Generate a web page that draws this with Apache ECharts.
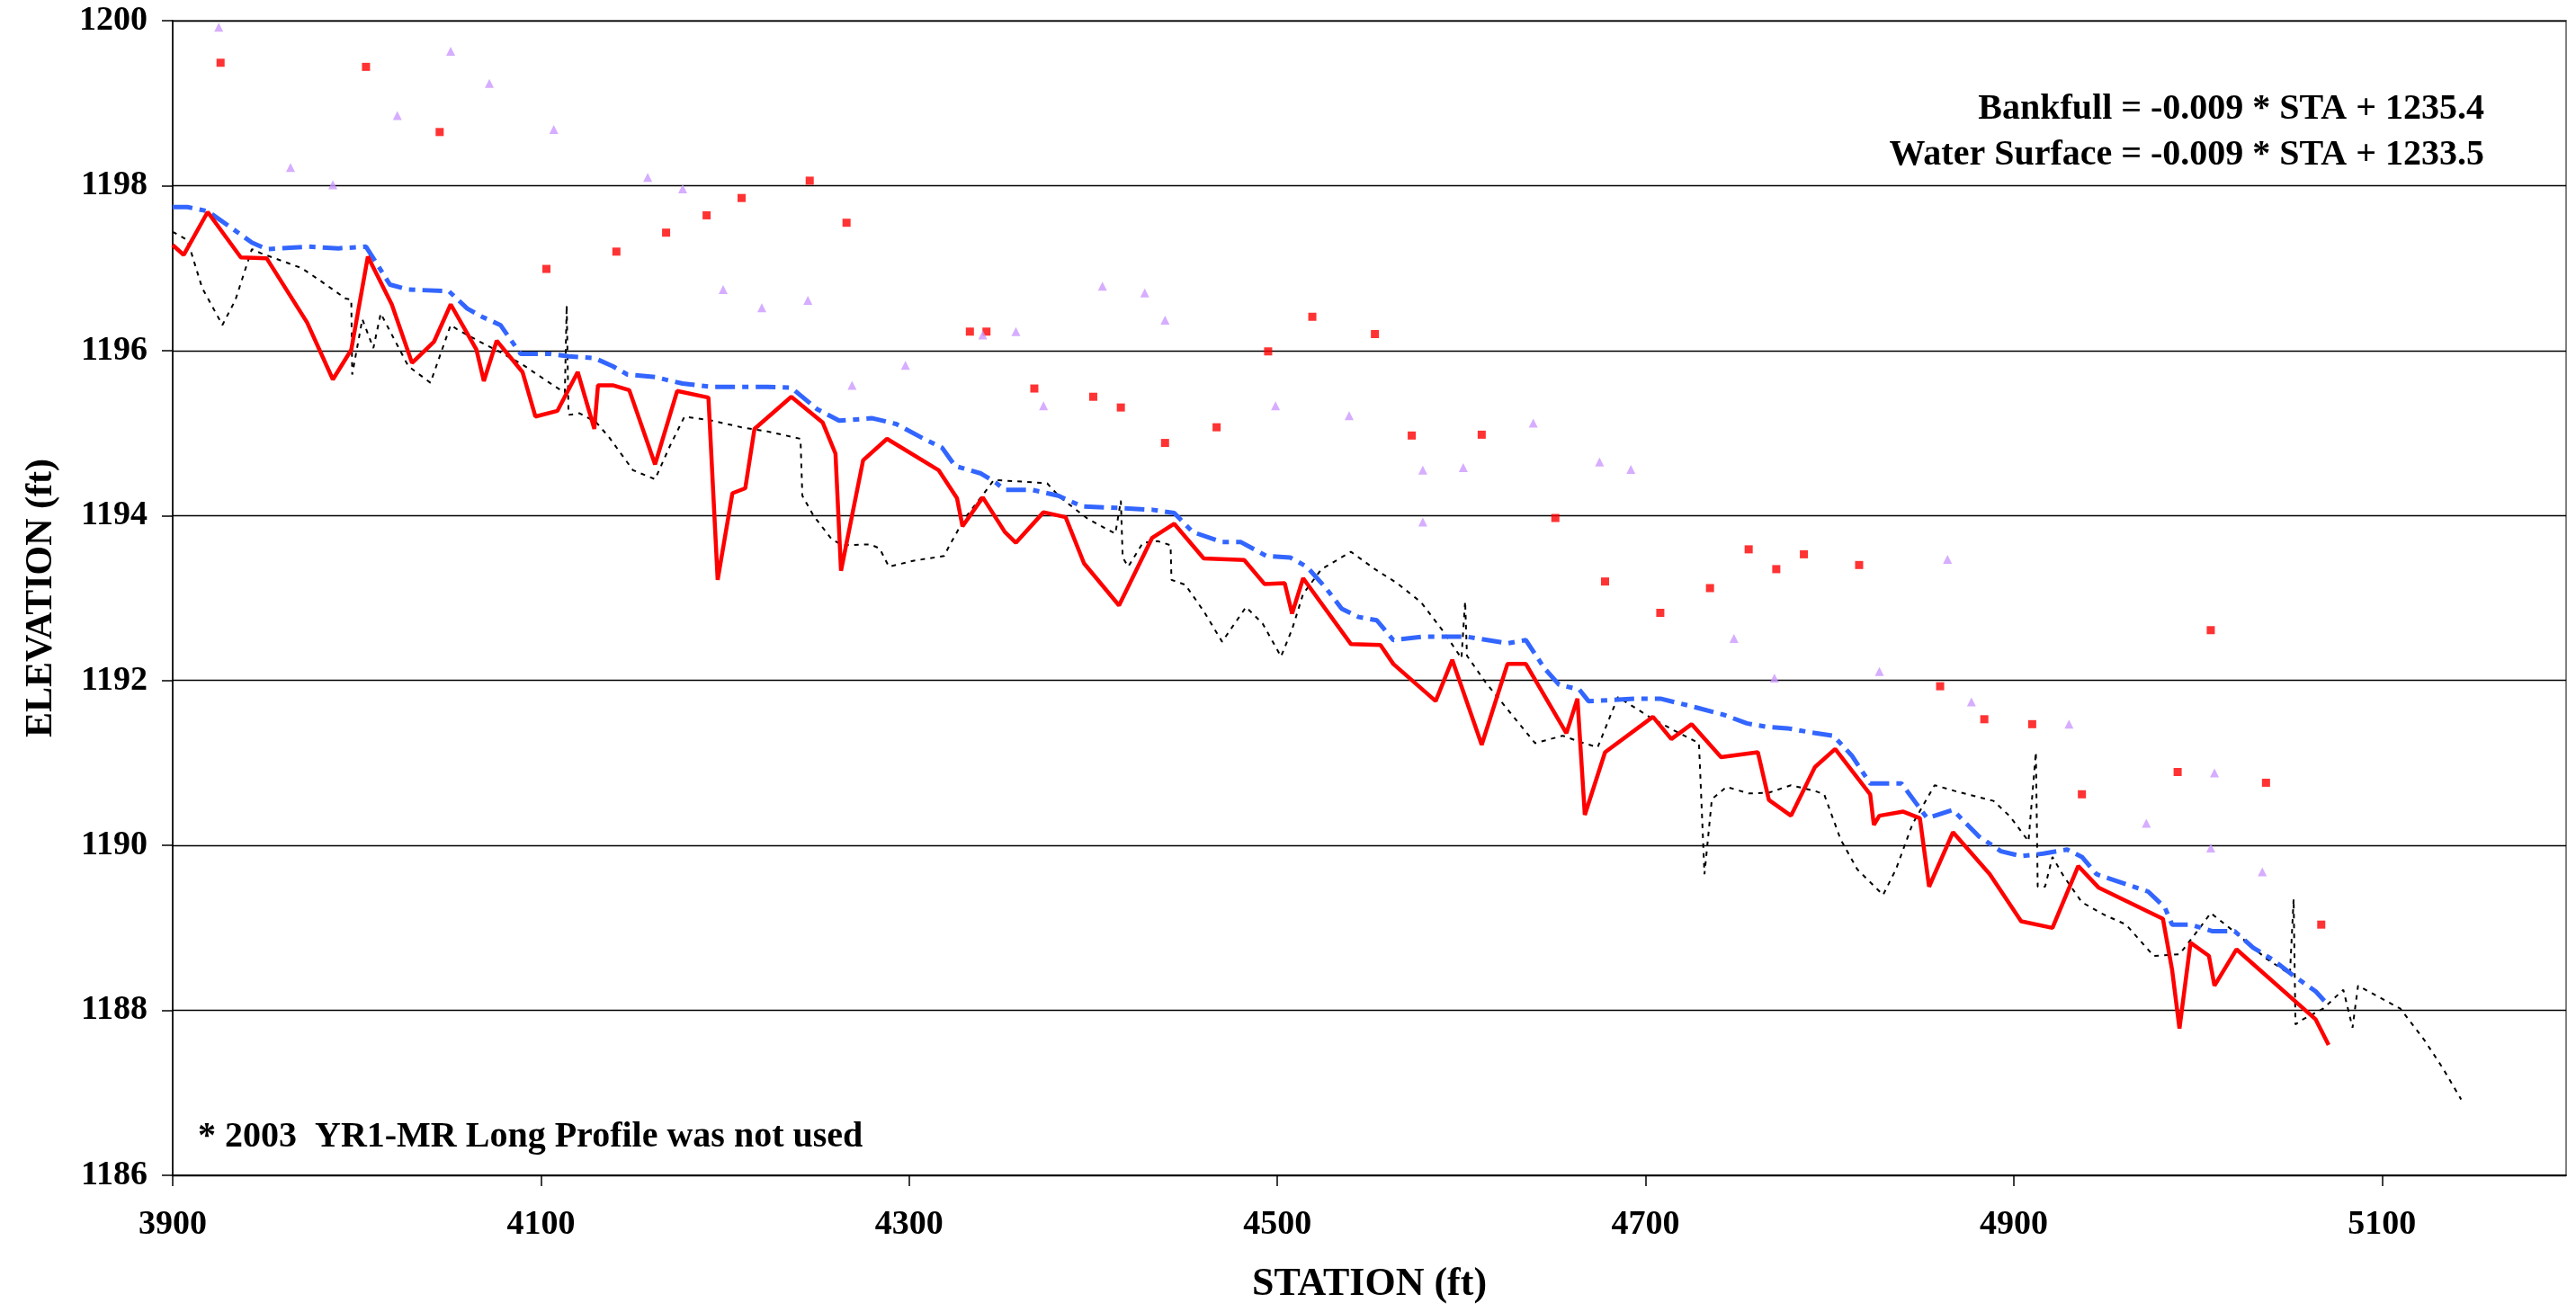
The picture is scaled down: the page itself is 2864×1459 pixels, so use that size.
<!DOCTYPE html>
<html>
<head>
<meta charset="utf-8">
<title>Long Profile</title>
<script src="https://cdn.jsdelivr.net/npm/echarts@6/dist/echarts.min.js"></script>
<style>
  html, body { margin: 0; padding: 0; background: #fff; }
  #chart-container { width: 2864px; height: 1459px; }
</style>
</head>
<body>
<div id="chart-container"></div>
<script>
const FONT = '"Liberation Serif", "Times New Roman", serif';

// red solid line
const thalwegSta = [3900, 3906, 3919, 3937, 3951, 3973, 3987, 3997, 4006, 4019, 4030, 4042, 4051, 4065, 4069, 4076, 4090, 4097, 4109, 4120, 4129, 4131, 4139, 4148, 4162, 4174, 4191, 4196, 4204, 4211, 4216, 4236, 4253, 4260, 4263, 4275, 4288, 4316, 4326, 4329, 4340, 4352, 4358, 4373, 4385, 4395, 4414, 4432, 4444, 4460, 4482, 4493, 4504, 4508, 4514, 4540, 4556, 4563, 4586, 4595, 4611, 4625, 4635, 4646, 4657, 4663, 4667, 4678, 4704, 4714, 4725, 4741, 4761, 4767, 4779, 4792, 4803, 4822, 4824, 4827, 4840, 4849, 4854, 4867, 4887, 4904, 4921, 4935, 4946, 4981, 4986, 4990, 4996, 5006, 5009, 5021, 5064, 5071];
const thalwegElev = [1197.28, 1197.16, 1197.68, 1197.13, 1197.12, 1196.34, 1195.65, 1196.01, 1197.14, 1196.56, 1195.85, 1196.11, 1196.56, 1196.01, 1195.63, 1196.12, 1195.74, 1195.20, 1195.27, 1195.74, 1195.05, 1195.58, 1195.58, 1195.52, 1194.62, 1195.51, 1195.43, 1193.22, 1194.27, 1194.33, 1195.05, 1195.44, 1195.13, 1194.75, 1193.33, 1194.67, 1194.93, 1194.55, 1194.21, 1193.87, 1194.22, 1193.80, 1193.67, 1194.04, 1193.98, 1193.42, 1192.91, 1193.73, 1193.90, 1193.48, 1193.46, 1193.17, 1193.18, 1192.81, 1193.24, 1192.44, 1192.43, 1192.20, 1191.75, 1192.25, 1191.22, 1192.20, 1192.20, 1191.78, 1191.36, 1191.78, 1190.37, 1191.13, 1191.56, 1191.29, 1191.47, 1191.07, 1191.13, 1190.55, 1190.36, 1190.95, 1191.17, 1190.62, 1190.25, 1190.36, 1190.41, 1190.33, 1189.50, 1190.16, 1189.65, 1189.08, 1189.00, 1189.75, 1189.49, 1189.11, 1188.49, 1187.78, 1188.82, 1188.66, 1188.30, 1188.74, 1187.89, 1187.58];

// blue dashed line
const waterSta = [3900, 3908, 3919, 3933, 3943, 3951, 3974, 3990, 4005, 4018, 4028, 4050, 4060, 4068, 4078, 4089, 4105, 4115, 4129, 4139, 4147, 4162, 4171, 4177, 4193, 4223, 4236, 4250, 4262, 4280, 4293, 4308, 4318, 4325, 4339, 4347, 4352, 4367, 4381, 4394, 4415, 4432, 4444, 4454, 4470, 4480, 4494, 4507, 4516, 4526, 4535, 4544, 4554, 4563, 4579, 4603, 4625, 4635, 4645, 4653, 4664, 4669, 4680, 4695, 4708, 4728, 4743, 4755, 4765, 4777, 4790, 4802, 4812, 4822, 4839, 4847, 4853, 4867, 4881, 4893, 4904, 4916, 4929, 4937, 4945, 4961, 4973, 4982, 4986, 4996, 5008, 5020, 5030, 5041, 5052, 5064, 5071];
const waterElev = [1197.74, 1197.74, 1197.69, 1197.47, 1197.31, 1197.23, 1197.26, 1197.24, 1197.26, 1196.80, 1196.74, 1196.72, 1196.51, 1196.41, 1196.31, 1195.96, 1195.96, 1195.93, 1195.91, 1195.81, 1195.71, 1195.68, 1195.63, 1195.60, 1195.56, 1195.56, 1195.55, 1195.29, 1195.15, 1195.18, 1195.11, 1194.93, 1194.82, 1194.60, 1194.51, 1194.40, 1194.31, 1194.31, 1194.24, 1194.11, 1194.09, 1194.07, 1194.03, 1193.80, 1193.68, 1193.68, 1193.51, 1193.49, 1193.38, 1193.13, 1192.87, 1192.77, 1192.73, 1192.49, 1192.53, 1192.53, 1192.45, 1192.49, 1192.15, 1191.95, 1191.89, 1191.75, 1191.76, 1191.78, 1191.78, 1191.67, 1191.58, 1191.48, 1191.44, 1191.42, 1191.37, 1191.33, 1191.09, 1190.75, 1190.75, 1190.51, 1190.33, 1190.43, 1190.11, 1189.93, 1189.87, 1189.90, 1189.95, 1189.86, 1189.65, 1189.53, 1189.44, 1189.25, 1189.04, 1189.04, 1188.96, 1188.96, 1188.76, 1188.61, 1188.42, 1188.23, 1188.06];

// black dotted line
const oldSta = [3900, 3908, 3916, 3927, 3934, 3943, 3948, 3970, 3980, 3994, 3997, 3997.5, 4003, 4009, 4013, 4028, 4040, 4051, 4055, 4070, 4078, 4090, 4108, 4113, 4114, 4115, 4121, 4130, 4137, 4150, 4162, 4170, 4178, 4193, 4209, 4223, 4241, 4242, 4248, 4258, 4264, 4279, 4284, 4289, 4302, 4319, 4322, 4330, 4340, 4346, 4362, 4375, 4382, 4397, 4412, 4415, 4416, 4419, 4427, 4435, 4442, 4442.5, 4450, 4460, 4470, 4483, 4492, 4502, 4508, 4514, 4524, 4540, 4553, 4565, 4578, 4590, 4600, 4602, 4603, 4613, 4625, 4640, 4655, 4665, 4674, 4685, 4702, 4715, 4729, 4732, 4736, 4744, 4756, 4767, 4779, 4792, 4797, 4806, 4815, 4829, 4836, 4845, 4857, 4868, 4889, 4898, 4908, 4912, 4913, 4917, 4921, 4927, 4937, 4949, 4961, 4976, 4990, 5000, 5007, 5020, 5037, 5050, 5052, 5053, 5057, 5068, 5079, 5084, 5087, 5096, 5110, 5123, 5133, 5143];
const oldElev = [1197.44, 1197.34, 1196.76, 1196.31, 1196.61, 1197.23, 1197.18, 1197.00, 1196.85, 1196.63, 1196.62, 1195.71, 1196.38, 1196.03, 1196.45, 1195.81, 1195.61, 1196.31, 1196.25, 1196.07, 1195.98, 1195.83, 1195.56, 1195.49, 1196.55, 1195.22, 1195.24, 1195.13, 1194.95, 1194.55, 1194.44, 1194.84, 1195.20, 1195.15, 1195.07, 1195.02, 1194.93, 1194.24, 1194.00, 1193.71, 1193.64, 1193.65, 1193.60, 1193.38, 1193.45, 1193.51, 1193.64, 1193.96, 1194.25, 1194.43, 1194.41, 1194.39, 1194.22, 1193.96, 1193.78, 1194.18, 1193.49, 1193.38, 1193.67, 1193.69, 1193.64, 1193.22, 1193.16, 1192.84, 1192.47, 1192.89, 1192.69, 1192.29, 1192.62, 1193.05, 1193.35, 1193.56, 1193.35, 1193.18, 1192.95, 1192.60, 1192.27, 1192.96, 1192.30, 1191.98, 1191.65, 1191.24, 1191.33, 1191.25, 1191.19, 1191.80, 1191.56, 1191.40, 1191.24, 1189.65, 1190.56, 1190.71, 1190.63, 1190.64, 1190.73, 1190.66, 1190.62, 1190.07, 1189.71, 1189.40, 1189.71, 1190.26, 1190.73, 1190.66, 1190.54, 1190.35, 1190.05, 1191.13, 1189.50, 1189.50, 1189.86, 1189.63, 1189.31, 1189.16, 1189.04, 1188.66, 1188.68, 1188.97, 1189.18, 1188.95, 1188.63, 1188.44, 1189.35, 1187.83, 1187.89, 1188.02, 1188.25, 1187.79, 1188.30, 1188.19, 1188.02, 1187.64, 1187.30, 1186.92];

// red squares
const bankSta = [3926, 4005, 4045, 4103, 4141, 4168, 4190, 4209, 4246, 4266, 4333, 4342, 4368, 4400, 4415, 4439, 4467, 4495, 4519, 4553, 4573, 4611, 4651, 4678, 4708, 4735, 4756, 4771, 4786, 4816, 4860, 4884, 4910, 4937, 4989, 5007, 5037, 5067];
const bankElev = [1199.49, 1199.44, 1198.65, 1196.99, 1197.20, 1197.43, 1197.64, 1197.85, 1198.06, 1197.55, 1196.23, 1196.23, 1195.54, 1195.44, 1195.31, 1194.88, 1195.07, 1195.99, 1196.41, 1196.20, 1194.97, 1194.98, 1193.97, 1193.20, 1192.82, 1193.12, 1193.59, 1193.35, 1193.53, 1193.40, 1191.93, 1191.53, 1191.47, 1190.62, 1190.89, 1192.61, 1190.76, 1189.04];

// purple triangles
const bankOldSta = [3925, 3964, 3987, 4022, 4051, 4072, 4107, 4158, 4177, 4199, 4220, 4245, 4269, 4298, 4340, 4358, 4373, 4405, 4428, 4439, 4499, 4539, 4579, 4579, 4601, 4639, 4675, 4692, 4748, 4770, 4827, 4864, 4877, 4930, 4972, 5007, 5009, 5035];
const bankOldElev = [1199.92, 1198.22, 1198.01, 1198.85, 1199.63, 1199.24, 1198.68, 1198.10, 1197.96, 1196.74, 1196.52, 1196.61, 1195.58, 1195.82, 1196.19, 1196.23, 1195.33, 1196.78, 1196.70, 1196.37, 1195.33, 1195.21, 1194.55, 1193.92, 1194.58, 1195.12, 1194.65, 1194.56, 1192.51, 1192.03, 1192.11, 1193.47, 1191.74, 1191.47, 1190.27, 1189.97, 1190.88, 1189.68];

const notes = [
  'Bankfull = -0.009 * STA + 1235.4',
  'Water Surface = -0.009 * STA + 1233.5',
  '* 2003  YR1-MR Long Profile was not used'
];

const zip = (xs, ys) => xs.map((x, i) => [x, ys[i]]);

const labelStyle = { color: '#000', fontFamily: FONT, fontWeight: 'bold' };

let option = {
  animation: false,
  backgroundColor: '#ffffff',
  grid: {
    left: 192,
    right: 11,
    top: 23,
    bottom: 152,
    show: true,
    borderColor: '#808080',
    borderWidth: 2,
  },
  xAxis: {
    type: 'value',
    min: 3900,
    max: 5200,
    interval: 200,
    name: 'STATION (ft)',
    nameLocation: 'middle',
    nameGap: 100,
    nameTextStyle: { ...labelStyle, fontSize: 44 },
    axisLine: { show: true, onZero: false, lineStyle: { color: '#000', width: 1.5 } },
    axisTick: { show: true, length: 12, lineStyle: { color: '#000', width: 1.5 } },
    axisLabel: { ...labelStyle, fontSize: 38, margin: 36, showMaxLabel: false, formatter: (v) => String(v) },
    splitLine: { show: false },
  },
  yAxis: {
    type: 'value',
    min: 1186,
    max: 1200,
    interval: 2,
    name: 'ELEVATION (ft)',
    nameLocation: 'middle',
    nameGap: 125,
    nameTextStyle: { ...labelStyle, fontSize: 42 },
    axisLine: { show: true, lineStyle: { color: '#000', width: 1.5 } },
    axisTick: { show: true, length: 12, lineStyle: { color: '#000', width: 1.5 } },
    axisLabel: { ...labelStyle, fontSize: 38, margin: 28, formatter: (v) => String(v) },
    splitLine: { show: true, lineStyle: { color: '#000', width: 1.3 } },
  },
  graphic: [
    {
      type: 'text', x: 2762, y: 122,
      style: { text: notes[0], align: 'right', verticalAlign: 'middle', font: 'bold 40px ' + FONT, fill: '#000' },
    },
    {
      type: 'text', x: 2762, y: 173,
      style: { text: notes[1], align: 'right', verticalAlign: 'middle', font: 'bold 40px ' + FONT, fill: '#000' },
    },
    {
      type: 'text', x: 220, y: 1265,
      style: { text: notes[2], align: 'left', verticalAlign: 'middle', font: 'bold 40px ' + FONT, fill: '#000' },
    },
  ],
  series: [
    {
      name: 'Previous Thalweg',
      type: 'line',
      data: zip(oldSta, oldElev),
      showSymbol: false,
      clip: true,
      lineStyle: { color: '#000', width: 2, type: [5, 6] },
      z: 2,
    },
    {
      name: 'Water Surface',
      type: 'line',
      data: zip(waterSta, waterElev),
      showSymbol: false,
      clip: true,
      lineStyle: { color: '#3366FF', width: 5, type: [22, 8, 7, 8] },
      z: 3,
    },
    {
      name: 'Thalweg',
      type: 'line',
      data: zip(thalwegSta, thalwegElev),
      showSymbol: false,
      clip: true,
      lineStyle: { color: '#FF0000', width: 4.5 },
      z: 4,
    },
    {
      name: 'Bankfull',
      type: 'scatter',
      data: zip(bankSta, bankElev),
      symbol: 'rect',
      symbolSize: 9,
      itemStyle: { color: '#FF0000' },
      z: 5,
    },
    {
      name: 'Bankfull (previous)',
      type: 'scatter',
      data: zip(bankOldSta, bankOldElev),
      symbol: 'triangle',
      symbolSize: [10, 10],
      itemStyle: { color: '#CC99FF' },
      z: 5,
    },
  ],
};

const paintChart = () => {
  let dom = document.getElementById('chart-container');
  let myChart = echarts.init(dom, null, { renderer: 'canvas' });
  myChart.setOption(option);
  window.addEventListener('resize', () => myChart.resize());
};
paintChart();
</script>
</body>
</html>
